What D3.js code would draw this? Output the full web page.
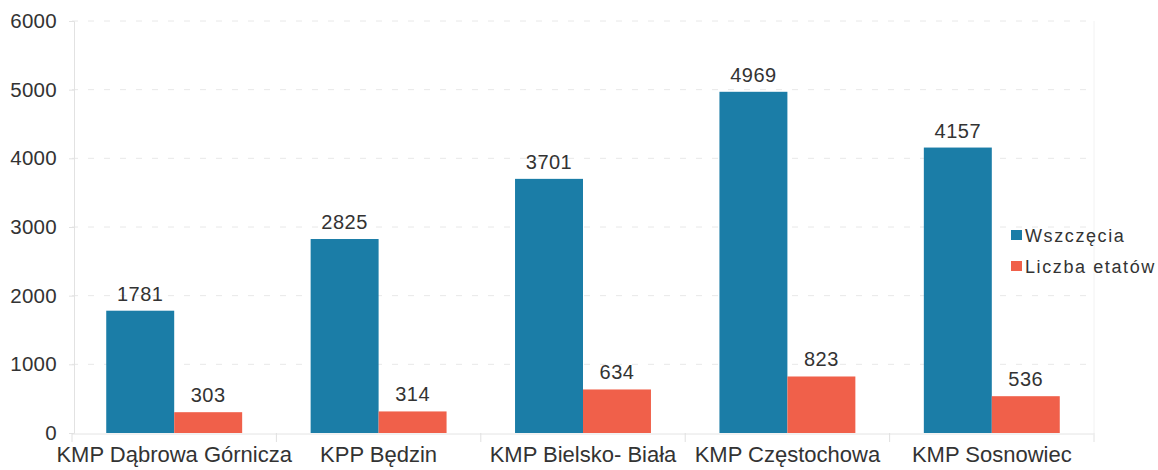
<!DOCTYPE html>
<html><head><meta charset="utf-8">
<script src="https://cdn.jsdelivr.net/npm/d3@7"></script>
<style>body{margin:0;background:#fff;overflow:hidden;} text{font-family:"Liberation Sans",Arial,sans-serif;fill:#333;}</style>
</head><body>
<svg id="c" width="1158" height="470"></svg>
<script>
const categories = ["KMP Dąbrowa Górnicza","KPP Będzin","KMP Bielsko- Biała","KMP Częstochowa","KMP Sosnowiec"];
const seriesNames = ["Wszczęcia","Liczba etatów"];
const wszczecia = [1781, 2825, 3701, 4969, 4157];
const etaty = [303, 314, 634, 823, 536];
const yTicks = [0,1000,2000,3000,4000,5000,6000];
const colors = ["#1b7da7","#f0604a"];

const svg = d3.select("#c");
const m = {l:72, r:1094, t:21, b:433};
const x = d3.scaleBand().domain(categories).range([m.l, m.r]).paddingInner(0.335).paddingOuter(0.1675);
const xs = d3.scaleBand().domain(seriesNames).range([0, x.bandwidth()]);
const y = d3.scaleLinear().domain([0,6000]).range([m.b, m.t]);

// gridlines
svg.append("g").selectAll("line").data(yTicks.filter(d=>d>0)).join("line")
  .attr("x1", m.l).attr("x2", m.r).attr("y1", d=>y(d)).attr("y2", d=>y(d))
  .attr("stroke","#e8e8e8").attr("stroke-width",1).attr("stroke-dasharray","6,10");

// y axis
const ya = svg.append("g").attr("transform",`translate(${m.l+2},0)`)
  .call(d3.axisLeft(y).tickValues(yTicks).tickSize(5).tickPadding(12).tickFormat(d3.format("d")));
ya.select(".domain").attr("stroke","#e2e2e2");
ya.selectAll(".tick line").attr("stroke","#e2e2e2");
ya.selectAll(".tick text").attr("font-size","20.5px").attr("fill","#333").style("font-family","Liberation Sans, Arial, sans-serif").attr("letter-spacing","0.3px");

// x axis
const step = x.step();
const bounds = categories.map((c)=>x(c) - x.paddingInner()*step/2).concat([m.r]);
svg.append("line").attr("x1",m.l).attr("x2",m.r).attr("y1",m.b+1).attr("y2",m.b+1).attr("stroke","#e4e4e4");
svg.append("g").selectAll("line").data(bounds).join("line")
  .attr("x1",d=>d).attr("x2",d=>d).attr("y1",m.b).attr("y2",m.b+9).attr("stroke","#e0e0e0");
svg.append("line").attr("x1",m.r).attr("x2",m.r).attr("y1",m.t).attr("y2",m.b+9).attr("stroke","#f2f2f2");

svg.append("g").selectAll("text").data(categories).join("text")
  .attr("x", d=>x(d)+x.bandwidth()/2).attr("y", 462)
  .attr("text-anchor","middle").attr("font-size","22px").text(d=>d);

// bars
const data = categories.map((c,i)=>({c, vals:[wszczecia[i], etaty[i]]}));
const g = svg.append("g").selectAll("g").data(data).join("g").attr("transform",d=>`translate(${x(d.c)},0)`);
g.selectAll("rect").data(d=>d.vals.map((v,j)=>({v, s:seriesNames[j], j}))).join("rect")
  .attr("x", d=>xs(d.s)).attr("width", xs.bandwidth())
  .attr("y", d=>y(d.v)).attr("height", d=>y(0)-y(d.v)).attr("fill", d=>colors[d.j]);
g.selectAll("text").data(d=>d.vals.map((v,j)=>({v, s:seriesNames[j], j}))).join("text")
  .attr("x", d=>xs(d.s)+xs.bandwidth()/2).attr("y", d=>y(d.v)-10)
  .attr("text-anchor","middle").attr("font-size","20px").attr("letter-spacing","0.5px").text(d=>d.v);

// legend
const lg = svg.append("g").selectAll("g").data(seriesNames).join("g")
  .attr("transform",(d,i)=>`translate(1011,${235+i*31})`);
lg.append("rect").attr("x",0).attr("y",-5).attr("width",11).attr("height",10).attr("fill",(d,i)=>colors[i]);
lg.append("text").attr("x",14).attr("y",6.5).attr("font-size","18px").attr("letter-spacing","1.6px").text(d=>d);
</script>
</body></html>
